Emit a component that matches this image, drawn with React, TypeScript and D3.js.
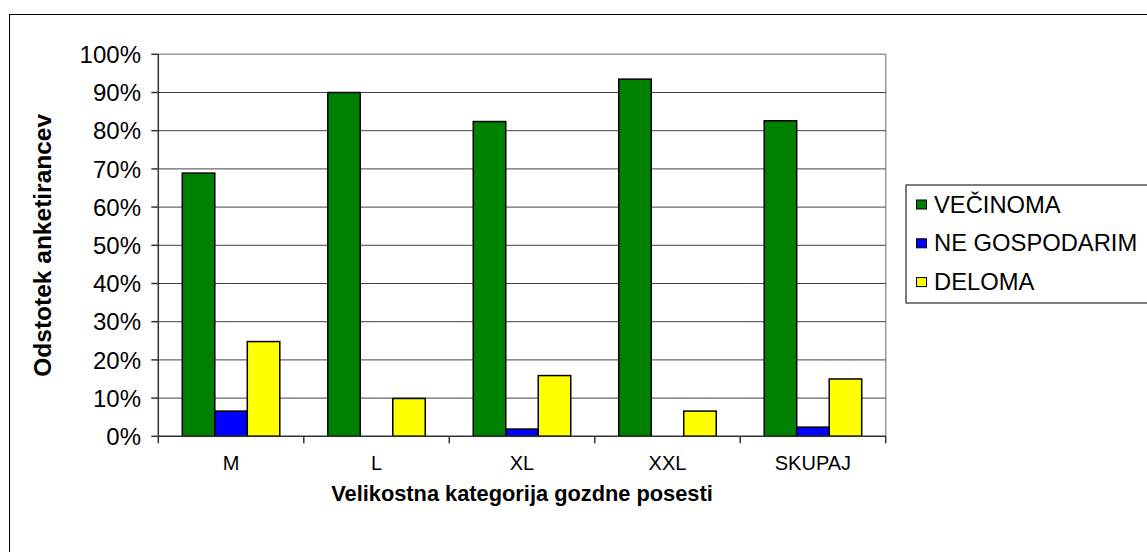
import React from "react";
import * as d3 from "d3";

const categories = ["M", "L", "XL", "XXL", "SKUPAJ"];
const seriesNames = ["VEČINOMA", "NE GOSPODARIM", "DELOMA"];
const seriesColors = ["#008000", "#0000FF", "#FFFF00"];
const vecinoma = [68.9, 90.0, 82.4, 93.5, 82.6];
const neGospodarim = [6.6, 0, 1.9, 0, 2.4];
const deloma = [24.8, 9.9, 15.9, 6.6, 15.0];
const yTicks = [0, 10, 20, 30, 40, 50, 60, 70, 80, 90, 100];

const series = [vecinoma, neGospodarim, deloma];

export default function App() {
  const W = 1147, H = 552;
  const left = 158.3, right = 885.7, top = 54.3, bottom = 436.3;
  const x = d3.scaleBand<string>().domain(categories).range([left, right]).paddingInner(0).paddingOuter(0);
  const y = d3.scaleLinear().domain([0, 100]).range([bottom, top]);
  const bw = 32.5;
  const font = "'Liberation Sans', Arial, sans-serif";
  return (
    <svg width={W} height={H} style={{ position: "absolute", left: 0, top: 0 }} fontFamily={font}>
      <rect x={0} y={0} width={W} height={H} fill="#fff" />
      <rect x={9.5} y={14.5} width={W + 10} height={H + 10} fill="#fff" stroke="#000" strokeWidth={1} />
      {/* plot border */}
      <line x1={left} x2={right} y1={top} y2={top} stroke="#999" strokeWidth={1.5} />
      <line x1={right} x2={right} y1={top} y2={bottom} stroke="#999" strokeWidth={1.5} />
      {yTicks.filter(t => t > 0 && t < 100).map(t => (
        <line key={t} x1={left} x2={right} y1={y(t)} y2={y(t)} stroke="#444" strokeWidth={1} />
      ))}
      {categories.map((c, i) =>
        series.map((s, j) => {
          const v = s[i];
          if (v <= 0) return null;
          const bx = (x(c) as number) + (x.bandwidth() - 3 * bw) / 2 + j * bw;
          return (
            <rect key={c + j} x={bx} y={y(v)} width={bw} height={y(0) - y(v)}
              fill={seriesColors[j]} stroke="#000" strokeWidth={1.5} />
          );
        })
      )}
      {/* axes */}
      <line x1={left} x2={left} y1={top} y2={bottom} stroke="#333" strokeWidth={1.5} />
      <line x1={left} x2={right} y1={bottom} y2={bottom} stroke="#333" strokeWidth={1.5} />
      {yTicks.map(t => (
        <g key={t}>
          <line x1={left - 7} x2={left} y1={y(t)} y2={y(t)} stroke="#333" strokeWidth={1.5} />
          <text x={141} y={y(t)} dy="0.36em" textAnchor="end" fontSize={24} fill="#000">{t}%</text>
        </g>
      ))}
      {[...categories.map(c => x(c) as number), right].map((p, i) => (
        <line key={i} x1={p} x2={p} y1={bottom} y2={bottom + 7} stroke="#333" strokeWidth={1.5} />
      ))}
      {categories.map(c => (
        <text key={c} x={(x(c) as number) + x.bandwidth() / 2} y={470} textAnchor="middle" fontSize={20} fill="#000">{c}</text>
      ))}
      <text x={(left + right) / 2} y={501} textAnchor="middle" fontSize={21.8} fontWeight="bold" fill="#000">
        Velikostna kategorija gozdne posesti
      </text>
      <text transform={`translate(51, ${(top + bottom) / 2}) rotate(-90)`} textAnchor="middle" fontSize={24.5} fontWeight="bold" fill="#000">
        Odstotek anketirancev
      </text>
      {/* legend */}
      <rect x={906} y={185} width={260} height={118} fill="#fff" stroke="#000" strokeWidth={1} />
      {seriesNames.map((n, j) => (
        <g key={n}>
          <rect x={916.5} y={200 + j * 38.8} width={10} height={9} fill={seriesColors[j]} stroke="#000" strokeWidth={1} />
          <text x={934} y={204 + j * 38.8} dy="0.36em" fontSize={23.75} fill="#000">{n}</text>
        </g>
      ))}
    </svg>
  );
}
